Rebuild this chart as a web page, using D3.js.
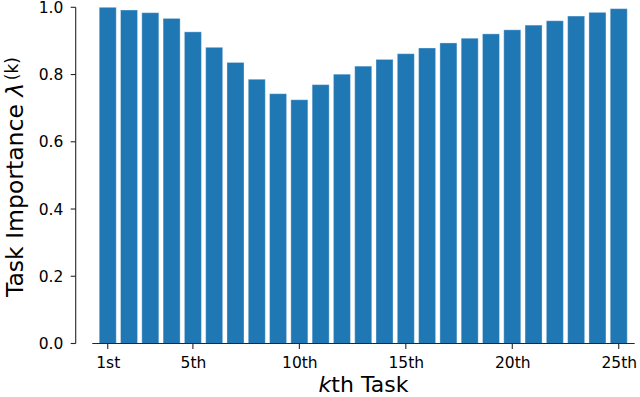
<!DOCTYPE html>
<html>
<head>
<meta charset="utf-8">
<script src="https://cdn.jsdelivr.net/npm/d3@7"></script>
<style>
  html, body { margin: 0; padding: 0; background: #fff; }
  svg { display: block; font-family: "DejaVu Sans", sans-serif; }
</style>
</head>
<body>
<svg id="chart" width="640" height="397"></svg>
<script>
const tasks = [1, 2, 3, 4, 5, 6, 7, 8, 9, 10, 11, 12, 13, 14, 15, 16, 17, 18, 19, 20, 21, 22, 23, 24, 25];
const importance = [1.000, 0.992, 0.984, 0.967, 0.927, 0.881, 0.836, 0.786, 0.743, 0.725,
                    0.770, 0.801, 0.825, 0.845, 0.862, 0.879, 0.894, 0.908, 0.921, 0.933,
                    0.947, 0.960, 0.974, 0.985, 0.996];
const xTicks = [1, 5, 10, 15, 20, 25];
const xTickLabels = ["1st", "5th", "10th", "15th", "20th", "25th"];
const yTicks = [0.0, 0.2, 0.4, 0.6, 0.8, 1.0];

const svg = d3.select("#chart");

const x = d3.scaleLinear().domain([0.275, 25.75]).range([92.3, 634.7]);
const y = d3.scaleLinear().domain([0, 1]).range([343.5, 7.3]);
const step = x(2) - x(1);
const barW = step * 0.8;

// bars
svg.append("g")
    .selectAll("rect")
    .data(tasks)
    .enter().append("rect")
    .attr("x", function (d) { return x(d) - barW / 2; })
    .attr("y", function (d, i) { return y(importance[i]); })
    .attr("width", barW)
    .attr("height", function (d, i) { return y(0) - y(importance[i]); })
    .style("fill", "#1f77b4")
    .style("stroke", "#ffffff")
    .style("stroke-opacity", 0.35)
    .style("stroke-width", 1);

// x axis (spine only over the bar range)
const xAxis = svg.append("g").attr("transform", `translate(0,${y(0)})`);
xAxis.append("line")
    .attr("x1", x.range()[0]).attr("x2", x.range()[1])
    .attr("stroke", "#262626").attr("stroke-width", 1.1);
xAxis.selectAll(".tick")
    .data(xTicks)
    .enter().append("line")
    .attr("x1", function (d) { return x(d); })
    .attr("x2", function (d) { return x(d); })
    .attr("y1", 0).attr("y2", 5.5)
    .attr("stroke", "#262626").attr("stroke-width", 1.1);
xAxis.selectAll("text")
    .data(xTicks)
    .enter().append("text")
    .attr("x", function (d) { return x(d) + 0.5; })
    .attr("y", 24)
    .attr("text-anchor", "middle")
    .style("font-size", "15.5px")
    .style("fill", "#000")
    .text(function (d, i) { return xTickLabels[i]; });

// y axis (offset spine)
const yAxisX = 75.7;
const yAxis = svg.append("g").attr("transform", `translate(${yAxisX},0)`);
yAxis.append("line")
    .attr("y1", y(1)).attr("y2", y(0))
    .attr("stroke", "#262626").attr("stroke-width", 1.1);
yAxis.selectAll(".tick")
    .data(yTicks)
    .enter().append("line")
    .attr("x1", -5).attr("x2", 0)
    .attr("y1", function (d) { return y(d); })
    .attr("y2", function (d) { return y(d); })
    .attr("stroke", "#262626").attr("stroke-width", 1.1);
yAxis.selectAll("text")
    .data(yTicks)
    .enter().append("text")
    .attr("x", -12.4)
    .attr("y", function (d) { return y(d); })
    .attr("dy", "0.36em")
    .attr("text-anchor", "end")
    .style("font-size", "15.5px")
    .style("fill", "#000")
    .text(function (d) { return d.toFixed(1); });

// axis labels
const xLabel = svg.append("text")
    .attr("x", 363.5)
    .attr("y", 391.5)
    .attr("text-anchor", "middle")
    .style("font-size", "22px")
    .style("fill", "#000");
xLabel.append("tspan").style("font-style", "italic").text("k");
xLabel.append("tspan").text("th Task");

const yLabel = svg.append("text")
    .attr("transform", "translate(23,297) rotate(-90)")
    .attr("text-anchor", "start")
    .style("font-size", "23.5px")
    .style("fill", "#000");
yLabel.append("tspan").text("Task Importance ");
yLabel.append("tspan").style("font-style", "italic").text("λ");
yLabel.append("tspan").attr("dy", "-0.3em").attr("dx", "0.15em").style("font-size", "17px").text("(k)");
</script>
</body>
</html>
